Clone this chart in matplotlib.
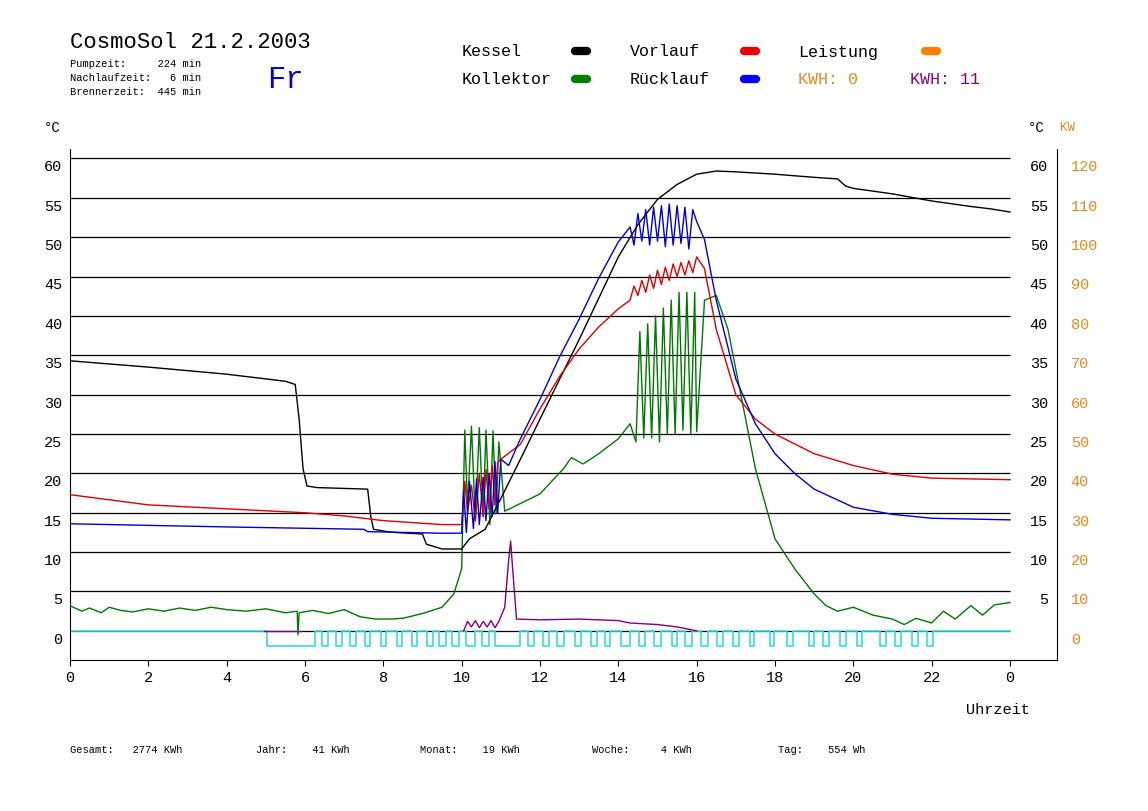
import numpy as np
import matplotlib.pyplot as plt
from matplotlib.lines import Line2D

plt.rcParams['font.family'] = ['Liberation Mono', 'DejaVu Sans Mono']

# Kessel (schwarz)
kessel_t = [0, 2, 4, 5.5, 5.75, 5.85, 5.95, 6.05, 6.3, 7.6, 7.68, 7.75, 8.1, 8.3, 9.0, 9.1, 9.5, 10.0, 10.2,
            10.6, 11.0, 11.5, 12, 13, 14, 14.5, 15, 15.5, 16, 16.5, 17, 18, 19, 19.6, 19.8, 20, 21, 22, 23, 23.5, 24]
kessel_v = [34.3, 33.5, 32.6, 31.7, 31.3, 26.9, 20.6, 18.4, 18.2, 18.0, 14.5, 12.9, 12.6, 12.5, 12.3, 11.0, 10.4,
            10.4, 11.7, 12.9, 16.8, 21.8, 26.9, 37.0, 47.5, 51.6, 54.8, 56.7, 58.0, 58.4, 58.3, 58.0, 57.6, 57.4,
            56.5, 56.2, 55.5, 54.6, 53.9, 53.6, 53.2]

# Vorlauf (rot)
vorlauf_t = [0, 2, 4, 6, 7, 8, 9.5, 10.0, 10.08, 10.15, 10.25, 10.35, 10.45, 10.55, 10.62, 10.7, 10.78, 10.85, 10.92,
             11.0, 11.5, 12, 12.5, 13, 13.5, 14, 14.3, 14.4, 14.5, 14.6, 14.7, 14.8, 14.9, 15.0, 15.1, 15.2, 15.3,
             15.4, 15.5, 15.6, 15.7, 15.8, 15.9, 16.0, 16.2, 16.5, 17, 17.5, 18, 19, 20, 21, 22, 23, 24]
vorlauf_v = [17.3, 16.0, 15.5, 15.0, 14.6, 14.0, 13.5, 13.5, 19.0, 15.0, 18.5, 14.0, 20.0, 14.5, 20.5, 15.5, 21.0,
             16.0, 21.4, 21.8, 23.7, 28.2, 32.3, 35.8, 38.6, 40.9, 42.0, 43.8, 42.6, 44.5, 43.0, 45.2, 43.5, 45.8,
             44.0, 46.2, 44.5, 46.6, 45.0, 46.8, 45.2, 47.0, 45.5, 47.5, 46.0, 38.3, 30.0, 26.9, 25.0, 22.5, 21.0,
             19.9, 19.4, 19.3, 19.2]

# Rücklauf (blau)
rueck_t = [0, 4, 7.5, 7.6, 9.5, 10.0, 10.05, 10.12, 10.2, 10.3, 10.38, 10.45, 10.55, 10.62, 10.7, 10.78, 10.85,
           10.92, 11.0, 11.2, 11.5, 12, 12.5, 13, 13.5, 14, 14.3, 14.4, 14.5, 14.6, 14.7, 14.8, 14.9, 15.0, 15.1,
           15.2, 15.3, 15.4, 15.5, 15.6, 15.7, 15.8, 15.9, 16.0, 16.2, 16.5, 17, 17.5, 18, 18.5, 19, 20, 21, 22, 24]
rueck_v = [13.6, 13.2, 12.9, 12.6, 12.4, 12.4, 17.8, 12.5, 19.0, 13.0, 19.3, 13.5, 19.5, 14.0, 20.0, 14.5, 21.5,
           15.0, 21.8, 21.0, 24.4, 29.4, 34.8, 39.6, 44.8, 49.4, 51.3, 49.0, 53.0, 49.5, 53.5, 49.0, 53.8, 49.5,
           54.0, 48.8, 54.2, 49.0, 54.0, 49.2, 53.8, 48.5, 53.5, 52.0, 49.7, 42.0, 32.0, 26.3, 22.5, 20.0, 18.0,
           15.7, 14.8, 14.3, 14.1]

# Kollektor (grün)
koll_t = [0, 0.3, 0.5, 0.8, 1.0, 1.3, 1.6, 2.0, 2.4, 2.8, 3.2, 3.6, 4.0, 4.5, 5.0, 5.5, 5.8, 5.82, 5.85, 6.2,
          6.6, 7.0, 7.4, 7.8, 8.2, 8.5, 9.0, 9.5, 9.8, 10.0, 10.08, 10.15, 10.25, 10.35, 10.45, 10.55, 10.62,
          10.72, 10.8, 10.88, 10.95, 11.1, 12, 12.6, 12.8, 13.1, 13.5, 14.0, 14.3, 14.45, 14.55, 14.65, 14.75,
          14.85, 14.95, 15.05, 15.15, 15.25, 15.35, 15.45, 15.55, 15.65, 15.75, 15.85, 15.95, 16.0, 16.2, 16.5,
          16.8, 17, 17.5, 18, 18.5, 19, 19.3, 19.6, 20, 20.5, 21, 21.3, 21.6, 22, 22.3, 22.6, 23.0, 23.3, 23.6,
          24]
koll_v = [3.2, 2.5, 2.9, 2.3, 3.0, 2.6, 2.4, 2.8, 2.5, 2.9, 2.6, 3.0, 2.7, 2.5, 2.8, 2.3, 2.5, -0.5, 2.3, 2.6,
          2.2, 2.7, 1.8, 1.5, 1.5, 1.6, 2.2, 3.0, 4.7, 7.9, 25.5, 15.5, 26.0, 14.0, 25.8, 14.5, 25.5, 13.5,
          25.4, 15.0, 24.0, 15.2, 17.4, 20.6, 22.0, 21.2, 22.5, 24.4, 26.3, 24.0, 38.0, 24.5, 39.0, 24.5, 40.0,
          24.0, 41.0, 25.0, 42.0, 25.0, 43.0, 25.5, 43.0, 25.0, 43.0, 25.3, 42.0, 42.6, 38.3, 33.2, 20.6, 11.7,
          7.9, 4.7, 3.2, 2.5, 3.0, 2.0, 1.5, 0.8, 1.6, 1.0, 2.5, 1.5, 3.2, 2.0, 3.3, 3.6]

# Leistung (violett), in °C-Skala (KW = 2 * °C)
leist_t = [10.05, 10.15, 10.25, 10.35, 10.45, 10.55, 10.65, 10.75, 10.85, 10.95, 11.1, 11.2, 11.25, 11.3, 11.4,
           12.0, 13.0, 14.0, 14.3, 15.0, 15.5, 16.0]
leist_v = [0.0, 1.2, 0.5, 1.3, 0.4, 1.2, 0.5, 1.3, 0.4, 1.2, 3.0, 9.0, 11.4, 8.0, 1.5, 1.4, 1.5, 1.3, 1.0, 0.8,
           0.5, 0.0]

# Pumpe (cyan): Einschaltintervalle [h]
pump_on = [5.02, 6.43, 6.79, 7.16, 7.52, 7.93, 8.34, 8.74, 9.12, 9.43, 9.76, 10.12, 10.52, 10.86, 11.70, 12.07,
           12.44, 12.89, 13.31, 13.65, 14.06, 14.53, 14.92, 15.36, 15.71, 16.11, 16.52, 16.93, 17.35, 17.86,
           18.30, 18.86, 19.22, 19.67, 20.09, 20.69, 21.07, 21.49, 21.88]
pump_off = [6.26, 6.58, 6.94, 7.30, 7.67, 8.08, 8.48, 8.87, 9.28, 9.60, 9.93, 10.33, 10.71, 11.48, 11.85, 12.23,
            12.60, 13.04, 13.46, 13.78, 14.29, 14.68, 15.08, 15.49, 15.88, 16.28, 16.67, 17.07, 17.47, 17.98,
            18.45, 19.00, 19.38, 19.82, 20.22, 20.83, 21.21, 21.64, 22.03]

W, H = 1148, 812
fig = plt.figure(figsize=(W / 100, H / 100), dpi=100)
ymin, ymax = -3.7, 61.2
ax = fig.add_axes([70 / W, 1 - 661 / H, (1057 - 70) / W, (661 - 150) / H])
ax.set_xlim(0, 25.2)
ax.set_ylim(ymin, ymax)

for v in range(0, 61, 5):
    ax.hlines(v, 0, 24, color='black', lw=0.9, zorder=1)

# Pumpe
px, py = [0], [0]
for a, b in zip(pump_on, pump_off):
    px += [a, a, b, b]
    py += [0, -1.9, -1.9, 0]
px.append(24)
py.append(0)
ax.plot(px, py, color='#33dddd', lw=1.2, zorder=2)
ax.plot([4.95, 5.9], [0, 0], color='#800080', lw=1, zorder=2)

ax.plot(koll_t, koll_v, color='#007700', lw=1, zorder=3)
ax.plot(kessel_t, kessel_v, color='black', lw=1, zorder=4)
ax.plot(vorlauf_t, vorlauf_v, color='#dd0000', lw=1, zorder=5)
ax.plot(rueck_t, rueck_v, color='#0000cc', lw=1, zorder=6)
ax.plot(leist_t, leist_v, color='#800080', lw=1, zorder=7)

ax.spines['top'].set_visible(False)
ax.spines['right'].set_linewidth(0.8)
ax.set_yticks([])
ax.set_xticks(range(0, 25, 2))
ax.set_xticklabels([str(h) for h in range(0, 24, 2)] + ['0'], fontsize=11)
ax.tick_params(axis='x', length=4, pad=3)

for v in range(0, 61, 5):
    ax.text(-0.2, v - 1.0, str(v), ha='right', va='center', fontsize=11)
    if v > 0:
        ax.text(24.97, v - 1.0, str(v), ha='right', va='center', fontsize=11)
    ax.text(25.55, v - 1.0, str(2 * v), ha='left', va='center', fontsize=11, color='#e08a1e')


def px2fig(x, y):
    return x / W, 1 - y / H


fig.text(*px2fig(70, 43), 'CosmoSol 21.2.2003', fontsize=16, va='center')
fig.text(*px2fig(70, 64), 'Pumpzeit:     224 min', fontsize=7.5, va='center')
fig.text(*px2fig(70, 78), 'Nachlaufzeit:   6 min', fontsize=7.5, va='center')
fig.text(*px2fig(70, 92), 'Brennerzeit:  445 min', fontsize=7.5, va='center')
fig.text(*px2fig(267, 80), 'Fr', fontsize=22, va='center', color='#0000cc')

legend_items = [(462, 52, 'Kessel', 581, 'black'), (630, 52, 'Vorlauf', 750, '#ee0000'),
                (798, 52, 'Leistung', 931, '#ff8000'), (462, 80, 'Kollektor', 581, '#008000'),
                (630, 80, 'Rücklauf', 750, '#0000ff')]
for x, y, lab, mx, c in legend_items:
    fig.text(*px2fig(x, y), lab, fontsize=12, va='center')
    (x0, y0), (x1, _) = px2fig(mx - 6, y), px2fig(mx + 6, y)
    fig.add_artist(Line2D([x0, x1], [y0, y0], transform=fig.transFigure, color=c, lw=6,
                          solid_capstyle='round'))
fig.text(*px2fig(798, 80), 'KWH: 0', fontsize=12, va='center', color='#e08a1e')
fig.text(*px2fig(910, 80), 'KWH: 11', fontsize=12, va='center', color='#800080')

fig.text(*px2fig(44, 128), '°C', fontsize=10, va='center')
fig.text(*px2fig(1028, 128), '°C', fontsize=10, va='center')
fig.text(*px2fig(1060, 128), 'KW', fontsize=9, va='center', color='#e08a1e')
fig.text(*px2fig(966, 710), 'Uhrzeit', fontsize=11, va='center')

stats = [(70, 'Gesamt:   2774 KWh'), (256, 'Jahr:    41 KWh'), (420, 'Monat:    19 KWh'),
         (592, 'Woche:     4 KWh'), (778, 'Tag:    554 Wh')]
for x, s in stats:
    fig.text(*px2fig(x, 750), s, fontsize=7.5, va='center')

fig.savefig('out.png', dpi=100)
